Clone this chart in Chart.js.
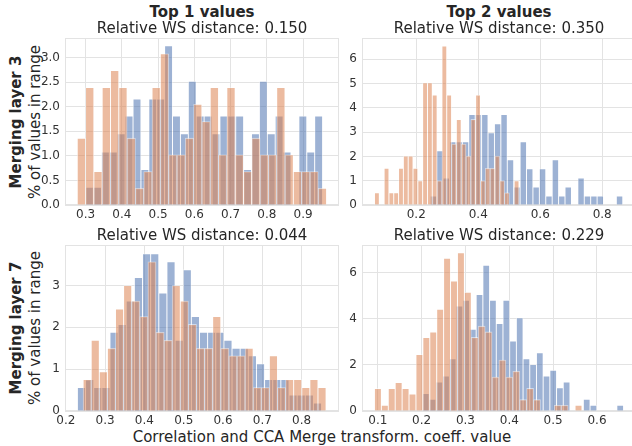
<!DOCTYPE html>
<html>
<head>
<meta charset="utf-8">
<script src="https://cdn.jsdelivr.net/npm/chart.js@4.4.1/dist/chart.umd.min.js"></script>
<style>
  html, body { margin: 0; padding: 0; background: #fff; overflow: hidden; }
  body { width: 632px; height: 446px; position: relative; font-family: 'DejaVu Sans', sans-serif; color: #262626; }
  canvas { position: absolute; }
  .lbl { position: absolute; white-space: nowrap; font-size: 15px; transform: translate(-50%, -50%); }
  .bold { font-weight: bold; }
  .rot { transform: translate(-50%, -50%) rotate(-90deg); }
</style>
</head>
<body>
<div class="lbl bold" style="left:202px; top:12px">Top 1 values</div>
<div class="lbl bold" style="left:499px; top:12px">Top 2 values</div>
<div class="lbl bold rot" style="left:16px; top:122px">Merging layer 3</div>
<div class="lbl rot" style="left:35px; top:122px">% of values in range</div>
<div class="lbl bold rot" style="left:16px; top:328px">Merging layer 7</div>
<div class="lbl rot" style="left:35px; top:328px">% of values in range</div>
<div class="lbl" style="left:322px; top:437px">Correlation and CCA Merge transform. coeff. value</div>

<canvas id="chart-l3-top1" width="320" height="210" style="left:25px; top:19px"></canvas>
<canvas id="chart-l3-top2" width="320" height="210" style="left:322px; top:19px"></canvas>
<canvas id="chart-l7-top1" width="320" height="209" style="left:25px; top:226px"></canvas>
<canvas id="chart-l7-top2" width="320" height="209" style="left:322px; top:226px"></canvas>

<script>
// relative WS distance shown above each panel
const wsDistances = ['0.150', '0.350', '0.044', '0.229'];

// merging layer 3, top 1 values
const l3t1BlueStart = 0.300, l3t1BlueWidth = 0.02179;
const l3t1Blue = [0.36, 0.36, 1.08, 1.08, 1.45, 1.81, 2.16, 0.72, 2.16, 2.16, 3.24, 1.81, 1.45, 2.52, 1.81,
                  1.81, 1.45, 1.81, 1.81, 1.81, 0.72, 1.45, 2.52, 1.45, 1.81, 1.08, 0, 1.81, 1.08, 1.81];
const l3t1OrangeStart = 0.2768, l3t1OrangeWidth = 0.02293;
const l3t1Orange = [1.36, 2.39, 0.68, 2.39, 2.74, 2.39, 1.36, 0.34, 0.68, 2.39, 3.08, 1.02, 1.02, 1.36, 2.05,
                    1.70, 2.39, 1.02, 2.39, 1.02, 0.68, 1.36, 1.02, 1.02, 2.39, 1.02, 0.68, 0.68, 0.68, 0.34];

// merging layer 3, top 2 values
const l3t2BlueStart = 0.2453, l3t2BlueWidth = 0.0207;
const l3t2Blue = [0.37, 2.23, 1.11, 2.60, 2.60, 2.60, 3.72, 3.72, 3.72, 2.97, 3.34, 3.72, 1.86, 0.74, 2.60,
                  1.49, 0.74, 1.49, 0.37, 1.86, 0.37, 0.74, 0, 1.11, 0.37, 0.37, 0.37, 0, 0, 0.37];
const l3t2OrangeStart = 0.0653, l3t2OrangeWidth = 0.01554;
const l3t2Orange = [0.50, 0, 1.51, 0.50, 0.50, 1.51, 2.01, 2.01, 1.51, 1.00, 5.03, 5.03, 4.52, 1.00, 6.54,
                    4.52, 2.51, 3.52, 2.51, 2.01, 3.52, 4.52, 1.00, 1.51, 1.51, 2.01, 1.00, 0.50, 0, 1.00];

// merging layer 7, top 1 values
const l7t1BlueStart = 0.2296, l7t1BlueWidth = 0.0207;
const l7t1Blue = [0.56, 0.75, 0.56, 0.56, 1.88, 2.07, 2.63, 3.19, 3.76, 3.76, 2.82, 3.57, 1.69, 3.38, 2.26,
                  1.88, 1.88, 1.88, 1.69, 1.50, 1.50, 1.32, 1.13, 0.75, 0.75, 0.75, 0.38, 0.38, 0.38, 0.19];
const l7t1OrangeStart = 0.2441, l7t1OrangeWidth = 0.0206;
const l7t1Orange = [0.75, 1.69, 0.94, 1.50, 2.44, 3.00, 2.63, 2.26, 3.57, 1.88, 1.69, 3.00, 2.63, 2.07, 1.50,
                    1.50, 2.26, 1.50, 1.32, 1.32, 1.50, 0.56, 0.56, 1.32, 0.56, 0.75, 0.75, 0.56, 0.75, 0.56];

// merging layer 7, top 2 values
const l7t2BlueStart = 0.2022, l7t2BlueWidth = 0.01528;
const l7t2Blue = [0.76, 0.51, 1.26, 1.52, 2.27, 4.55, 4.80, 3.54, 5.05, 6.32, 4.80, 3.79, 4.80, 3.03, 4.04,
                  2.27, 2.02, 2.53, 1.52, 1.77, 1.01, 1.26, 0, 0, 0.51, 0.25, 0, 0, 0, 0.25];
const l7t2OrangeStart = 0.0924, l7t2OrangeWidth = 0.01578;
const l7t2Orange = [0.98, 0.25, 0.98, 1.23, 0.98, 0.74, 2.45, 3.19, 3.43, 4.41, 6.62, 5.64, 6.86, 5.15, 3.19,
                    3.68, 3.43, 1.47, 2.21, 1.47, 1.72, 0.49, 0.98, 0.49, 0, 0, 0.25, 0.25, 0, 0.25];

// axis limits and ticks
const xRangeL3T1 = [0.243, 0.999], xRangeL3T2 = [0.025, 0.909];
const xRangeL7T1 = [0.198, 0.895], xRangeL7T2 = [0.064, 0.689];
const yMaxes = [3.40, 6.87, 3.97, 7.20];
const xTicksL3T1 = [0.3, 0.4, 0.5, 0.6, 0.7, 0.8, 0.9];
const xTicksL3T2 = [0.2, 0.4, 0.6, 0.8];
const xTicksL7T1 = [0.2, 0.3, 0.4, 0.5, 0.6, 0.7, 0.8];
const xTicksL7T2 = [0.1, 0.2, 0.3, 0.4, 0.5, 0.6];
const yTicksL3T1 = [0, 0.5, 1, 1.5, 2, 2.5, 3];
const yTicksL3T2 = [0, 1, 2, 3, 4, 5, 6];
const yTicksL7T1 = [0, 1, 2, 3];
const yTicksL7T2 = [0, 2, 4, 6];

const BLUE = 'rgba(76, 114, 176, 0.55)';
const ORANGE = 'rgba(221, 132, 82, 0.55)';
const EDGE = 'rgba(255, 255, 255, 0.5)';
const GRID = '#e3e3e3';

Chart.defaults.font.family = "'DejaVu Sans', sans-serif";
Chart.defaults.color = '#333';

function histPoints(start, width, heights) {
    return heights.map((h, i) => ({ x: start + width * (i + 0.5), y: h }));
}

// bar width = one bin, measured on the x scale
function binThickness(width) {
    return (ctx) => {
        const s = ctx.chart.scales.x;
        if (!s) return undefined;
        return Math.abs(s.getPixelForValue(s.min + width) - s.getPixelForValue(s.min));
    };
}

const frame = {
    id: 'frame',
    beforeDatasetsDraw(chart) {
        const { ctx, chartArea: a } = chart;
        ctx.save();
        ctx.strokeStyle = GRID;
        ctx.lineWidth = 1;
        ctx.strokeRect(Math.round(a.left) + 0.5, Math.round(a.top) + 0.5,
                       Math.round(a.width) - 1, Math.round(a.height) - 1);
        ctx.restore();
    }
};

function makePanel(id, idx, blue, blueWidth, orange, orangeWidth, xRange, xTicks, yTicks, yDecimals) {
    const fixTicks = (arr) => (s) => { s.ticks = arr.map(v => ({ value: v })); };
    const config = {
        type: 'bar',
        data: {
            datasets: [{
                label: 'orange',
                data: orange,
                backgroundColor: ORANGE,
                borderColor: EDGE,
                borderWidth: 0.8,
                grouped: false,
                barThickness: binThickness(orangeWidth),
                order: 1
            }, {
                label: 'blue',
                data: blue,
                backgroundColor: BLUE,
                borderColor: EDGE,
                borderWidth: 0.8,
                grouped: false,
                barThickness: binThickness(blueWidth),
                order: 2
            }]
        },
        options: {
            responsive: false,
            devicePixelRatio: 1,
            animation: false,
            events: [],
            layout: { padding: { left: 0, right: 6, top: 0, bottom: 0 } },
            plugins: {
                legend: { display: false },
                tooltip: { enabled: false },
                title: {
                    display: true,
                    text: 'Relative WS distance: ' + wsDistances[idx],
                    color: '#262626',
                    font: { size: 15, weight: 'normal', lineHeight: 1 },
                    padding: { top: 3, bottom: 1 },
                    fullSize: false
                }
            },
            scales: {
                x: {
                    type: 'linear',
                    min: xRange[0],
                    max: xRange[1],
                    offset: false,
                    afterBuildTicks: fixTicks(xTicks),
                    afterFit: (s) => { s.height = 24; },
                    grid: { color: GRID, offset: false, drawTicks: false },
                    border: { display: false },
                    ticks: {
                        autoSkip: false, maxRotation: 0, padding: 3,
                        font: { size: 12 },
                        callback: (v) => v.toFixed(1)
                    }
                },
                y: {
                    min: 0,
                    max: yMaxes[idx],
                    afterBuildTicks: fixTicks(yTicks),
                    afterFit: (s) => { s.width = 40; },
                    grid: { color: GRID, drawTicks: false },
                    border: { display: false },
                    ticks: {
                        padding: 5,
                        font: { size: 12 },
                        callback: (v) => v.toFixed(yDecimals)
                    }
                }
            }
        },
        plugins: [frame]
    };
    return new Chart(document.getElementById(id), config);
}

var chartL3T1 = makePanel('chart-l3-top1', 0,
    histPoints(l3t1BlueStart, l3t1BlueWidth, l3t1Blue), l3t1BlueWidth,
    histPoints(l3t1OrangeStart, l3t1OrangeWidth, l3t1Orange), l3t1OrangeWidth,
    xRangeL3T1, xTicksL3T1, yTicksL3T1, 1);

var chartL3T2 = makePanel('chart-l3-top2', 1,
    histPoints(l3t2BlueStart, l3t2BlueWidth, l3t2Blue), l3t2BlueWidth,
    histPoints(l3t2OrangeStart, l3t2OrangeWidth, l3t2Orange), l3t2OrangeWidth,
    xRangeL3T2, xTicksL3T2, yTicksL3T2, 0);

var chartL7T1 = makePanel('chart-l7-top1', 2,
    histPoints(l7t1BlueStart, l7t1BlueWidth, l7t1Blue), l7t1BlueWidth,
    histPoints(l7t1OrangeStart, l7t1OrangeWidth, l7t1Orange), l7t1OrangeWidth,
    xRangeL7T1, xTicksL7T1, yTicksL7T1, 0);

var chartL7T2 = makePanel('chart-l7-top2', 3,
    histPoints(l7t2BlueStart, l7t2BlueWidth, l7t2Blue), l7t2BlueWidth,
    histPoints(l7t2OrangeStart, l7t2OrangeWidth, l7t2Orange), l7t2OrangeWidth,
    xRangeL7T2, xTicksL7T2, yTicksL7T2, 0);
</script>
</body>
</html>
